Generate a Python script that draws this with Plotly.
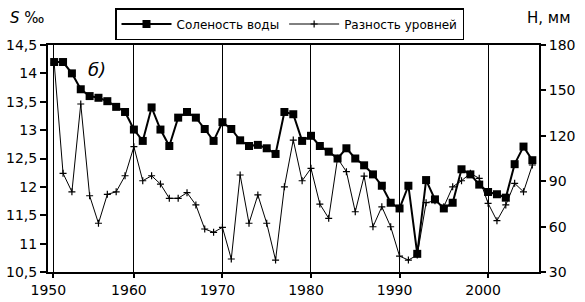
import plotly.graph_objects as go

years = list(range(1951, 2006))
salinity = [14.2, 14.2, 14.0, 13.72, 13.6, 13.57, 13.51, 13.41, 13.32, 13.01,
            12.81, 13.4, 13.01, 12.72, 13.22, 13.32, 13.22, 13.02, 12.81, 13.14,
            13.02, 12.82, 12.72, 12.74, 12.68, 12.58, 13.32, 13.28, 12.81, 12.9,
            12.72, 12.62, 12.5, 12.68, 12.5, 12.38, 12.22, 12.02, 11.72, 11.62,
            12.02, 10.82, 12.12, 11.78, 11.62, 11.72, 12.31, 12.22, 12.04, 11.91,
            11.87, 11.81, 12.4, 12.71, 12.47]
level_diff = [168, 95.2, 83, 141, 80.4, 62.2, 81.3, 83, 93.6, 112.8,
              90.3, 93.6, 88.1, 78.7, 78.7, 82.4, 74.3, 58.4, 56.2, 59.5,
              38.6, 94.1, 62.2, 80.9, 62.2, 37.9, 86.3, 117.2, 90.3, 98.5,
              74.9, 65.5, 105.1, 96.3, 69.8, 93.4, 59.9, 73.1, 59.9, 40.5,
              37.9, 41.2, 75.8, 77.1, 73.1, 86.3, 90.3, 95.2, 91.9, 75.4,
              63.9, 74.3, 88.6, 83, 100.7]

x_tickvals = [1950.9, 1960, 1970, 1980, 1990, 2000]
x_ticktext = ["1950", "1960", "1970", "1980", "1990", "2000"]
s_ticks = [10.5, 11, 11.5, 12, 12.5, 13, 13.5, 14, 14.5]
h_ticks = [30, 60, 90, 120, 150, 180]

FONT = "DejaVu Sans"

fig = go.Figure()
fig.add_trace(go.Scatter(
    x=years, y=level_diff, name="Разность уровней", yaxis="y2",
    mode="lines+markers",
    line=dict(color="black", width=1),
    marker=dict(symbol="cross-thin", size=5, color="black",
                line=dict(color="black", width=1.2)),
))
fig.add_trace(go.Scatter(
    x=years, y=salinity, name="Соленость воды", yaxis="y",
    mode="lines+markers",
    line=dict(color="black", width=2),
    marker=dict(symbol="square", size=8, color="black"),
))

fig.update_layout(
    width=585, height=302,
    margin=dict(l=48, r=46, t=45, b=30, autoexpand=False),
    paper_bgcolor="white", plot_bgcolor="white",
    separators=", ",
    font=dict(family=FONT, color="black", size=13),
    showlegend=True,
    legend=dict(orientation="h", xref="container", yref="container",
                x=115 / 585, xanchor="left", y=1 - 8 / 302, yanchor="top",
                bordercolor="black", borderwidth=1.5, bgcolor="white",
                font=dict(size=12, family=FONT), traceorder="reversed",
                itemwidth=50),
    xaxis=dict(range=[1950.3, 2005.75], tickvals=x_tickvals, ticktext=x_ticktext,
               automargin=False,
               showgrid=True, gridcolor="black", gridwidth=1,
               showline=True, linecolor="black", linewidth=2, mirror=True,
               ticks="outside", ticklen=4, tickcolor="black", tickwidth=1.5,
               ticklabelshift=-5,
               tickfont=dict(size=14, family=FONT), zeroline=False),
    yaxis=dict(range=[10.5, 14.5], tickvals=s_ticks, showgrid=False,
               automargin=False,
               showline=True, linecolor="black", linewidth=2,
               ticks="outside", ticklen=6, tickcolor="black", tickwidth=1.5,
               tickfont=dict(size=14, family=FONT), zeroline=False),
    yaxis2=dict(range=[30, 180], tickvals=h_ticks, overlaying="y", side="right",
                automargin=False,
                showgrid=False, showline=True, linecolor="black", linewidth=2,
                ticks="outside", ticklen=5, tickcolor="black", tickwidth=1.5,
                tickfont=dict(size=14, family=FONT), zeroline=False),
    yaxis3=dict(range=[10.5, 14.5], tickvals=s_ticks, overlaying="y", side="left",
                automargin=False,
                showgrid=False, showline=False, showticklabels=False,
                ticks="inside", ticklen=4, tickcolor="black", tickwidth=1.5,
                zeroline=False),
    yaxis4=dict(range=[30, 180], tickvals=h_ticks, overlaying="y", side="right",
                automargin=False,
                showgrid=False, showline=False, showticklabels=False,
                ticks="inside", ticklen=5, tickcolor="black", tickwidth=1.5,
                zeroline=False),
)

fig.add_annotation(text="<i>S</i> ‰", xref="paper", yref="paper",
                   x=-0.081, y=1.119, xanchor="left", yanchor="middle",
                   showarrow=False, font=dict(size=15, family=FONT))
fig.add_annotation(text="H, мм", xref="paper", yref="paper",
                   x=0.9715, y=1.119, xanchor="left", yanchor="middle",
                   showarrow=False, font=dict(size=15, family=FONT))
fig.add_annotation(text="<i>б)</i>", xref="paper", yref="paper",
                   x=0.099, y=0.89, xanchor="center", yanchor="middle",
                   showarrow=False, font=dict(size=18, family=FONT))

fig.write_html("out.html",
               config={"displayModeBar": False},
               post_script="document.body.style.margin='0';document.body.style.overflow='hidden';")
